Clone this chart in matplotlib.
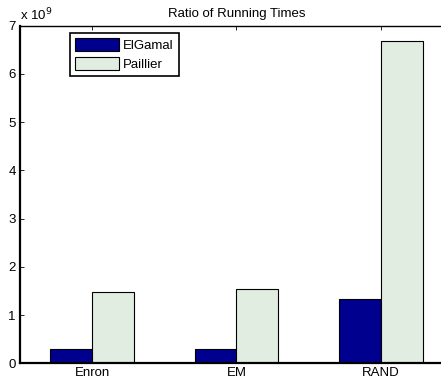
import numpy as np
import matplotlib
matplotlib.use("Agg")
import matplotlib.pyplot as plt

plt.rcParams['font.family'] = ['Liberation Sans', 'DejaVu Sans']

# ===================== 数据 =====================
categories = ["Enron", "EM", "RAND"]
elgamal = [0.29e9, 0.30e9, 1.33e9]
paillier = [1.47e9, 1.535e9, 6.69e9]
series_names = ["ElGamal", "Paillier"]

FS = 9.5

# ===================== 绘图 =====================
fig = plt.figure(figsize=(4.41, 3.81), dpi=100)
ax = fig.add_axes([20 / 441, 17.7 / 381, 433 / 441, 337.6 / 381])

x = np.arange(1, len(categories) + 1)
w = 0.29
ax.bar(x - w / 2, elgamal, w, color='#00008F', edgecolor='black', lw=0.8, label=series_names[0])
ax.bar(x + w / 2, paillier, w, color='#E0EDE0', edgecolor='black', lw=0.8, label=series_names[1])

ax.set_xlim(0.5, 3.5)
ax.set_ylim(0, 7e9)
ax.set_xticks(x)
ax.set_xticklabels(categories)
ax.set_yticks(np.arange(0, 8) * 1e9)
ax.set_yticklabels([str(i) for i in range(8)])
ax.text(0.0, 1.008, r"x 10$^{9}$", transform=ax.transAxes, fontsize=FS, va='bottom', ha='left')
ax.tick_params(direction='in', top=True, right=True, labelsize=FS, length=3, width=0.6, pad=3)
for s in ax.spines.values():
    s.set_linewidth(1.0)
ax.spines['left'].set_linewidth(1.6)
ax.spines['bottom'].set_linewidth(1.6)

ax.set_title("Ratio of Running Times", fontsize=FS, pad=6)
leg = ax.legend(loc='upper left', bbox_to_anchor=(50 / 433, 0.978), fontsize=FS, fancybox=False,
                framealpha=1, edgecolor='black', borderaxespad=0, handlelength=3.3,
                handleheight=1.1, borderpad=0.4, labelspacing=0.35, handletextpad=0.3)
leg.get_frame().set_linewidth(1.2)

fig.savefig("out.png", dpi=100)
